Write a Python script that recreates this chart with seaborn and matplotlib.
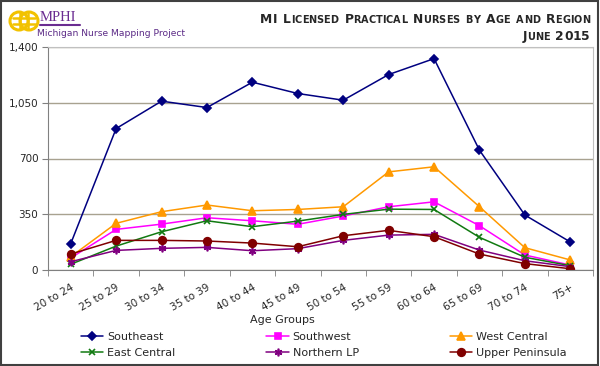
import numpy as np
import pandas as pd
import matplotlib
matplotlib.use("Agg")
import matplotlib.pyplot as plt
import seaborn as sns
from matplotlib.patches import Rectangle, Circle
from matplotlib.offsetbox import TextArea, HPacker, AnchoredOffsetbox
from matplotlib.ticker import FuncFormatter, FixedLocator

# datos
age_groups = ["20 to 24", "25 to 29", "30 to 34", "35 to 39", "40 to 44", "45 to 49",
              "50 to 54", "55 to 59", "60 to 64", "65 to 69", "70 to 74", "75+"]
southeast = [165, 888, 1060, 1020, 1179, 1108, 1066, 1227, 1327, 752, 345, 176]
southwest = [75, 255, 288, 328, 309, 287, 339, 397, 428, 278, 94, 31]
west_central = [83, 293, 366, 408, 372, 380, 397, 616, 648, 397, 140, 63]
east_central = [36, 150, 240, 309, 272, 307, 349, 382, 380, 205, 80, 27]
northern_lp = [52, 123, 136, 142, 121, 134, 186, 219, 224, 125, 58, 21]
upper_peninsula = [100, 186, 186, 182, 169, 146, 215, 249, 209, 100, 40, 8]

regions = ["Southeast", "Southwest", "West Central", "East Central", "Northern LP", "Upper Peninsula"]
series = [southeast, southwest, west_central, east_central, northern_lp, upper_peninsula]
colors = ["#000080", "#ff00ff", "#ff9900", "#117a11", "#800080", "#800000"]
markers = ["D", "s", "^", "x", (6, 2, 0), "o"]
msizes = [4, 5, 5.5, 5, 5.5, 5.5]

df = pd.DataFrame({
    "age": age_groups * len(regions),
    "nurses": np.concatenate(series),
    "region": np.repeat(regions, len(age_groups)),
})

sns.set_style("white")
plt.rcParams["font.family"] = ["DejaVu Sans"]

fig = plt.figure(figsize=(6, 3.66), dpi=100)
ax = fig.add_axes([48 / 600, 1 - 270 / 366, 545 / 600, 223 / 366])

# una llamada por serie (marcadores rellenos y de linea no se pueden mezclar)
for reg, c, m, ms in zip(regions, colors, markers, msizes):
    sub = df[df["region"] == reg]
    sns.lineplot(data=sub, x="age", y="nurses", color=c, marker=m, markersize=ms,
                 markeredgecolor=c, markeredgewidth=1.2, linewidth=1.1, sort=False,
                 ax=ax, label=reg, legend=False)

ax.set_xlim(-0.5, len(age_groups) - 0.5)
ax.set_ylim(0, 1400)
ax.set_yticks([0, 350, 700, 1050, 1400])
ax.yaxis.set_major_formatter(FuncFormatter(lambda v, p: f"{int(v):,}"))
ax.grid(axis="y", color="#a8a290", linewidth=1)
ax.set_axisbelow(True)

ax.set_xticks(range(len(age_groups)))
ax.set_xticklabels(age_groups, rotation=30, ha="right", rotation_mode="anchor", fontsize=7.5)
ax.xaxis.set_minor_locator(FixedLocator(np.arange(-0.5, len(age_groups), 1)))
ax.tick_params(axis="x", which="major", length=0, pad=9)
ax.tick_params(axis="x", which="minor", length=4, color="#808080", direction="out", bottom=True)
ax.tick_params(axis="y", length=4, color="#808080", direction="out", left=True, labelsize=7.5, pad=3)
ax.set_xlabel("")
ax.set_ylabel("")

for s in ["left", "bottom"]:
    ax.spines[s].set_color("#808080")
for s in ["top", "right"]:
    ax.spines[s].set_color("#c0c0c0")

fig.text(282 / 600, 1 - 320 / 366, "Age Groups", ha="center", va="center", fontsize=8)

# leyenda, ordenada por filas como en Excel
order = [0, 3, 1, 4, 2, 5]
handles = [ax.lines[i] for i in order]
labels = [regions[i] for i in order]
fig.legend(handles, labels, ncol=3, loc="upper left", bbox_to_anchor=(81 / 600, 1 - 332 / 366),
           frameon=False, fontsize=8, handlelength=2.0, handletextpad=0.35,
           columnspacing=8.2, labelspacing=0.5, borderpad=0, borderaxespad=0)

# titulo en versalitas
def small_caps(text, big=8.8, small=7.0):
    parts = []
    for word in text.split(" "):
        for ch in word:
            if ch.islower():
                parts.append(TextArea(ch.upper(), textprops=dict(fontsize=small, fontweight="bold")))
            else:
                parts.append(TextArea(ch, textprops=dict(fontsize=big, fontweight="bold")))
        parts.append(TextArea("\u2002", textprops=dict(fontsize=big, fontweight="bold")))
    parts = parts[:-1]
    return HPacker(children=parts, align="baseline", pad=0, sep=0)

t1 = AnchoredOffsetbox(loc="upper right", child=small_caps("MI Licensed Practical Nurses by Age and Region"),
                       bbox_to_anchor=(590 / 600, 1 - 13 / 366), bbox_transform=fig.transFigure,
                       frameon=False, pad=0, borderpad=0)
t2 = AnchoredOffsetbox(loc="upper right", child=small_caps("June 2015"),
                       bbox_to_anchor=(590 / 600, 1 - 30 / 366), bbox_transform=fig.transFigure,
                       frameon=False, pad=0, borderpad=0)
fig.add_artist(t1)
fig.add_artist(t2)

# logo MPHI
lax = fig.add_axes([8 / 600, 1 - 36 / 366, 32 / 600, 30 / 366])
lax.set_xlim(0, 32)
lax.set_ylim(0, 30)
lax.set_aspect("equal")
lax.axis("off")
gold = "#f2c200"
for cx in [11, 21]:
    lax.add_patch(Circle((cx, 15), 9, fill=False, ec=gold, lw=2.2))
for v in [12, 20]:
    lax.plot([v, v], [7, 23], color=gold, lw=1.8)
for h in [12, 18]:
    lax.plot([5, 27], [h, h], color=gold, lw=1.8)

fig.text(40 / 600, 1 - 21 / 366, "MPHI", family="Liberation Serif", fontsize=10.5, color="#6a2c91")
fig.add_artist(plt.Line2D([40 / 600, 80 / 600], [1 - 25 / 366, 1 - 25 / 366], color="#6a2c91", lw=1.5))
fig.text(37 / 600, 1 - 36 / 366, "Michigan Nurse Mapping Project", fontsize=6.6, color="#5b2a86")

# borde de la figura
fig.add_artist(Rectangle((0.002, 0.003), 0.995, 0.993, transform=fig.transFigure,
                         fill=False, ec="#404040", lw=1.5))

fig.savefig("out.png", dpi=100)
